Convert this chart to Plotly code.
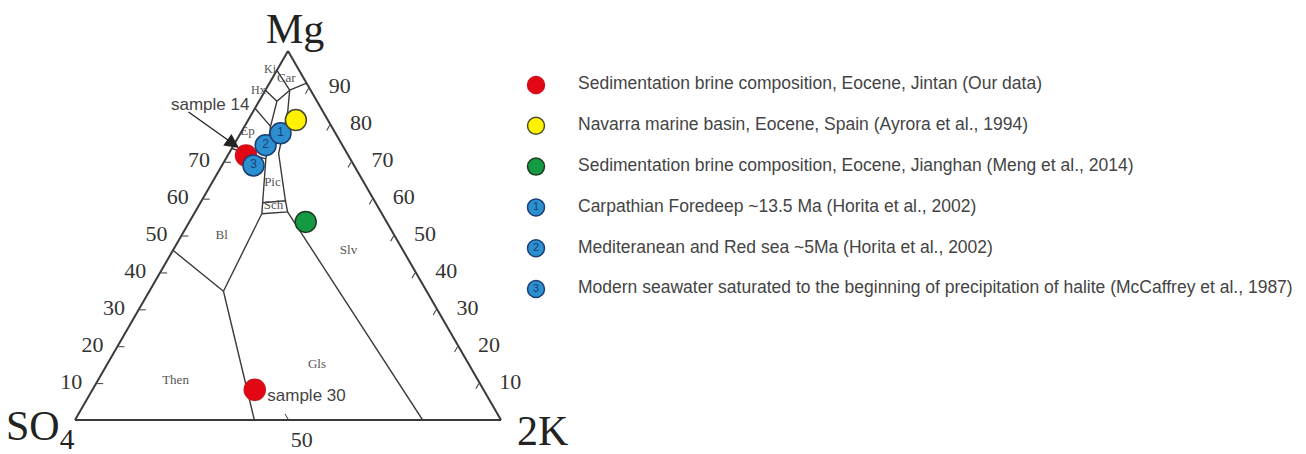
import plotly.graph_objects as go

# ---------------- data (ternary %: Mg, SO4, 2K) ----------------
legend_names = [
    "Sedimentation brine composition, Eocene, Jintan (Our data)",
    "Navarra marine basin, Eocene, Spain (Ayrora et al., 1994)",
    "Sedimentation brine composition, Eocene, Jianghan (Meng et al., 2014)",
    "Carpathian Foredeep ~13.5 Ma (Horita et al., 2002)",
    "Mediteranean and Red sea ~5Ma (Horita et al., 2002)",
    "Modern seawater saturated to the beginning of precipitation of halite (McCaffrey et al., 1987)",
]
legend_numbers = ["", "", "", "1", "2", "3"]

jintan_mg = [71.7, 8.2]
jintan_so4 = [24.0, 53.7]
jintan_k = [4.3, 38.1]

navarra_mg = [81.3]
navarra_so4 = [7.5]
navarra_k = [11.2]

jianghan_mg = [53.7]
jianghan_so4 = [19.0]
jianghan_k = [27.3]

carpathian_mg = [77.7]
carpathian_so4 = [12.9]
carpathian_k = [9.4]

medit_mg = [74.5]
medit_so4 = [18.0]
medit_k = [7.5]

modern_mg = [69.0]
modern_so4 = [23.6]
modern_k = [7.4]

# phase-field boundaries
then_bl = ([46.0, 34.9], [54.0, 47.7], [0.0, 17.4])
then_gls = ([34.9, 0.0], [47.7, 57.9], [17.4, 42.1])
bl_gls = ([34.9, 55.9], [47.7, 28.2], [17.4, 15.9])
sch_box = ([55.9, 58.9, 59.4, 56.4, 55.9], [28.2, 26.5, 20.9, 21.9, 28.2], [15.9, 14.6, 19.7, 21.7, 15.9])
gls_slv = ([56.4, 0.0], [21.9, 18.4], [21.7, 81.6])
pic_left = ([58.9, 70.8, 79.6, 86.4], [26.5, 19.8, 14.3, 9.4], [14.6, 9.4, 6.1, 4.2])
pic_right = ([59.4, 72.2, 83.7, 89.4], [20.9, 16.1, 8.2, 4.9], [19.7, 11.7, 8.1, 5.7])
hx_top = ([89.4, 86.4, 89.4], [10.6, 9.4, 4.9], [0.0, 4.2, 5.7])
car_line = ([94.8, 89.4, 91.3], [5.2, 4.9, 0.0], [0.0, 5.7, 8.7])
hx_bottom = ([84.5, 79.6], [15.5, 14.3], [0.0, 6.1])
ep_bl = ([73.6, 70.8], [26.4, 19.8], [0.0, 9.4])
boundaries = [then_bl, then_gls, bl_gls, sch_box, gls_slv, pic_left, pic_right,
              hx_top, car_line, hx_bottom, ep_bl]

field_names = ["Bl", "Then", "Gls", "Slv", "Pic", "Sch", "Ep", "Car"]
field_mg = [49.9, 10.6, 15.0, 45.8, 64.3, 58.0, 78.2, 92.6]
field_so4 = [40.6, 71.1, 35.7, 12.9, 21.5, 24.4, 20.4, 4.1]
field_k = [9.5, 18.3, 49.3, 41.3, 14.2, 17.6, 1.4, 3.3]

sample_labels = ["sample 30"]
sample_mg = [6.3]
sample_so4 = [42.5]
sample_k = [51.2]

left_ticks = [10, 20, 30, 40, 50, 60, 70]
right_ticks_k = [10, 20, 30, 40, 50, 60, 70, 80, 90]
right_tick_labels = ["90", "80", "70", "60", "50", "40", "30", "20", "10"]
bottom_ticks = [50]

# ---------------- figure ----------------
# the page body has an 8px margin; work in window pixels and convert
OFF = 8
W, H = 1306 - OFF, 454 - OFF


def px(x):
    return (x - OFF) / W


def py(y):
    return (H - (y - OFF)) / H


NB = "\u00a0"
fig = go.Figure()
LINE = "#3a3a3a"

for mg, so4, k in boundaries:
    fig.add_trace(go.Scatterternary(a=mg, b=so4, c=k, mode="lines",
                                    line=dict(color=LINE, width=1.4),
                                    showlegend=False, hoverinfo="skip"))

fig.add_trace(go.Scatterternary(a=field_mg, b=field_so4, c=field_k, mode="text",
                                text=field_names,
                                textfont=dict(family="Liberation Serif", size=13, color="#555"),
                                showlegend=False, hoverinfo="skip"))

fig.add_trace(go.Scatterternary(a=sample_mg, b=sample_so4, c=sample_k, mode="text",
                                text=sample_labels,
                                textfont=dict(family="Liberation Sans", size=17, color="#444"),
                                showlegend=False, hoverinfo="skip"))

BLUE = "#2b8fd0"
BLUE_EDGE = "#1b3f72"
fill_colors = ["#e30613", "#fff200", "#139a43", BLUE, BLUE, BLUE]
edge_colors = ["#d0101a", "#4a4a2a", "#1f3a22", BLUE_EDGE, BLUE_EDGE, BLUE_EDGE]

# plotted in this order so that the blue circles lie over the red one
series = [
    (jintan_mg, jintan_so4, jintan_k, 0),
    (modern_mg, modern_so4, modern_k, 5),
    (medit_mg, medit_so4, medit_k, 4),
    (carpathian_mg, carpathian_so4, carpathian_k, 3),
    (navarra_mg, navarra_so4, navarra_k, 1),
    (jianghan_mg, jianghan_so4, jianghan_k, 2),
]
for mg, so4, k, i in series:
    fig.add_trace(go.Scatterternary(a=mg, b=so4, c=k, mode="markers", name=legend_names[i],
                                    marker=dict(size=21, color=fill_colors[i],
                                                line=dict(color=edge_colors[i], width=1.5)),
                                    showlegend=False, hoverinfo="skip"))
    if legend_numbers[i]:
        fig.add_trace(go.Scatterternary(a=mg, b=so4, c=k, mode="text",
                                        text=[legend_numbers[i]] * len(mg),
                                        textfont=dict(family="Liberation Sans", size=12,
                                                      color=BLUE_EDGE),
                                        showlegend=False, hoverinfo="skip"))

# ---- key (drawn on its own hidden cartesian axes, one row per series) ----
rows = list(range(len(legend_names)))
fig.add_trace(go.Scatter(x=[0] * len(rows), y=rows, mode="markers",
                         marker=dict(size=17, color=fill_colors,
                                     line=dict(color=edge_colors, width=1.5)),
                         cliponaxis=False,
                         showlegend=False, hoverinfo="skip", xaxis="x", yaxis="y"))
num_rows = [r for r in rows if legend_numbers[r]]
fig.add_trace(go.Scatter(x=[0] * len(num_rows), y=num_rows, mode="text",
                         text=[legend_numbers[r] for r in num_rows],
                         textfont=dict(family="Liberation Sans", size=11, color=BLUE_EDGE),
                         cliponaxis=False,
                         showlegend=False, hoverinfo="skip", xaxis="x", yaxis="y"))
fig.add_trace(go.Scatter(x=[42] * len(rows), y=rows, mode="text", text=legend_names,
                         textposition="middle right", cliponaxis=False,
                         textfont=dict(family="Liberation Sans", size=17.5, color="#444"),
                         showlegend=False, hoverinfo="skip", xaxis="x", yaxis="y"))

axis_common = dict(showgrid=False, linecolor=LINE, linewidth=2, ticks="inside",
                   ticklen=6, tickcolor=LINE, tickwidth=1.2, min=0,
                   title=dict(text=""),
                   tickfont=dict(family="Liberation Serif", size=22, color="#333"))
title_font = dict(family="Liberation Serif", size=42, color="#222")

x0, x1 = 75, 501          # window pixels of the bottom corners
tri_h = (x1 - x0) * 3 ** 0.5 / 2
ybot = 420                # window pixel of the bottom edge

key_first, key_last = 85, 289   # window pixel rows of the first / last key entry
half = (key_last - key_first) / (len(rows) - 1) / 2


def ann(text, x, y, font, **kw):
    d = dict(text=text, x=px(x), y=py(y), xref="paper", yref="paper",
             xanchor="center", yanchor="middle", showarrow=False, font=font)
    d.update(kw)
    return d


small_serif = dict(family="Liberation Serif", size=12, color="#555")
fig.update_layout(
    width=W, height=H,
    margin=dict(l=0, r=0, t=0, b=0),
    paper_bgcolor="white",
    plot_bgcolor="rgba(0,0,0,0)",
    showlegend=False,
    ternary=dict(
        sum=100,
        bgcolor="white",
        domain=dict(x=[px(x0), px(x1)], y=[py(ybot), py(ybot - tri_h)]),
        aaxis=dict(tickmode="array", tickvals=left_ticks,
                   ticktext=[str(v) + NB * 2 for v in left_ticks], **axis_common),
        baxis=dict(tickmode="array", tickvals=bottom_ticks,
                   ticktext=[NB * 5 + str(v) for v in bottom_ticks], **axis_common),
        caxis=dict(tickmode="array", tickvals=right_ticks_k,
                   ticktext=[NB * 3 + t for t in right_tick_labels], **axis_common),
    ),
    xaxis=dict(domain=[px(526), 1.0], range=[-10, 770], visible=False, fixedrange=True),
    yaxis=dict(domain=[py(key_last + half), py(key_first - half)],
               range=[len(rows) - 0.5, -0.5], visible=False, fixedrange=True),
    annotations=[
        ann("Mg", 295, 29, title_font),
        ann("SO<sub>4</sub>", 40, 429, title_font),
        ann("2K", 542, 431, title_font),
        ann("sample 14", 210, 105, dict(family="Liberation Sans", size=17, color="#444")),
        dict(text="", x=px(239), y=py(148), xref="paper", yref="paper",
             ax=-52, ay=-37, showarrow=True, arrowhead=2, arrowsize=2.2, arrowwidth=1.3,
             arrowcolor="#222"),
        ann("Ki", 270, 69, small_serif),
        ann("Hx", 258, 90, small_serif),
    ],
)

fig.write_html("out.html")
